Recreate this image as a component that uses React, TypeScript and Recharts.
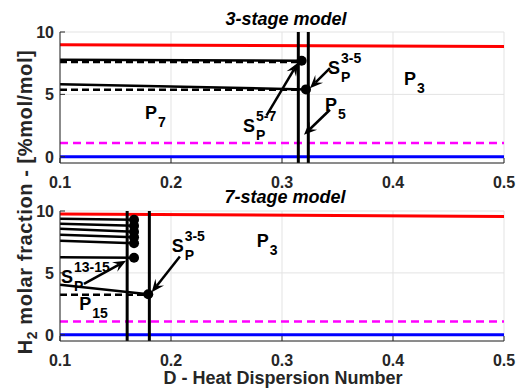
import React from 'react';
import {
  ComposedChart,
  Line,
  XAxis,
  YAxis,
  CartesianGrid,
  ReferenceLine,
  ReferenceDot,
  Scatter,
} from 'recharts';

const FONT = "'Liberation Sans', Arial, Helvetica, sans-serif";
const AXIS_COLOR = '#262626';

// ---- axes ----
const X_TICKS = [0.1, 0.2, 0.3, 0.4, 0.5];
const Y_TICKS = [0, 5, 10];
const X_DOMAIN: [number, number] = [0.1, 0.5];
const Y_DOMAIN: [number, number] = [-0.5, 10];

// ---- 3-stage model ----
const s3Red = [{ x: 0.1, y: 8.98 }, { x: 0.5, y: 8.84 }];
const s3Blue = [{ x: 0.1, y: 0 }, { x: 0.5, y: 0 }];
const s3Magenta = [{ x: 0.1, y: 1.1 }, { x: 0.5, y: 1.1 }];
const s3Solid = [
  [{ x: 0.1, y: 7.78 }, { x: 0.3177, y: 7.7 }],
  [{ x: 0.1, y: 5.82 }, { x: 0.3216, y: 5.4 }],
];
const s3Dashed = [
  [{ x: 0.1, y: 7.6 }, { x: 0.3177, y: 7.6 }],
  [{ x: 0.1, y: 5.37 }, { x: 0.3216, y: 5.37 }],
];
const s3Switch = [{ x: 0.3177, y: 7.7 }, { x: 0.3216, y: 5.4 }];
const s3Vertical = [0.3147, 0.3237];
const s3Arrows = [
  { from: { x: 0.286, y: 3.29 }, to: { x: 0.3144, y: 7.53 } },
  { from: { x: 0.3432, y: 7.1 }, to: { x: 0.3252, y: 5.5 } },
  { from: { x: 0.3432, y: 3.77 }, to: { x: 0.3198, y: 1.76 } },
];
const s3Labels = [
  { x: 0.1766, y: 3.04, main: 'P', sub: '7', sup: '' },
  { x: 0.41, y: 5.77, main: 'P', sub: '3', sup: '' },
  { x: 0.3414, y: 6.65, main: 'S', sub: 'P', sup: '3-5' },
  { x: 0.3387, y: 3.69, main: 'P', sub: '5', sup: '' },
  { x: 0.2649, y: 2.0, main: 'S', sub: 'P', sup: '5-7' },
];

// ---- 7-stage model ----
const s7Red = [{ x: 0.1, y: 9.76 }, { x: 0.5, y: 9.55 }];
const s7Blue = [{ x: 0.1, y: 0 }, { x: 0.5, y: 0 }];
const s7Magenta = [{ x: 0.1, y: 1.08 }, { x: 0.5, y: 1.08 }];
const s7ProfileStart = [9.37, 8.97, 8.56, 8.08, 7.59, 6.26];
const s7ProfileEnd = [9.29, 8.8, 8.32, 7.88, 7.39, 6.22];
const s7ProfileX = [0.1, 0.1667];
const s7Lower = [{ x: 0.1, y: 4.04 }, { x: 0.1795, y: 3.27 }];
const s7LowerDashed = [{ x: 0.1, y: 3.23 }, { x: 0.1795, y: 3.23 }];
const s7Vertical = [0.1605, 0.1805];
const s7Arrows = [
  { from: { x: 0.1216, y: 4.12 }, to: { x: 0.1595, y: 5.98 } },
  { from: { x: 0.208, y: 6.32 }, to: { x: 0.1826, y: 3.43 } },
];
const s7Labels = [
  { x: 0.1009, y: 4.2, main: 'S', sub: 'P', sup: '13-15' },
  { x: 0.2006, y: 6.7, main: 'S', sub: 'P', sup: '3-5' },
  { x: 0.2772, y: 7.13, main: 'P', sub: '3', sup: '' },
  { x: 0.1174, y: 2.02, main: 'P', sub: '15', sup: '' },
];

const s7Profiles = s7ProfileStart.map((v, i) => [
  { x: s7ProfileX[0], y: v },
  { x: s7ProfileX[1], y: s7ProfileEnd[i] },
]);
const s7Dots = [
  ...s7ProfileEnd.map((v) => ({ x: s7ProfileX[1], y: v })),
  s7Lower[1],
];

// ---- custom pieces ----
const XTick = (p: any) => (
  <g>
    <line x1={p.x} y1={p.y} x2={p.x} y2={p.y - 5} stroke={AXIS_COLOR} strokeWidth={1} />
    <text x={p.x} y={p.y + 25} textAnchor="middle" fontFamily={FONT} fontWeight="bold" fontSize={16} fill={AXIS_COLOR}>
      {p.payload.value}
    </text>
  </g>
);
const XTopTick = (p: any) => (
  <line x1={p.x} y1={p.y} x2={p.x} y2={p.y + 5} stroke={AXIS_COLOR} strokeWidth={1} />
);
const YTick = (p: any) => (
  <g>
    <line x1={p.x} y1={p.y} x2={p.x + 5} y2={p.y} stroke={AXIS_COLOR} strokeWidth={1} />
    <text x={p.x - 6} y={p.y + 6} textAnchor="end" fontFamily={FONT} fontWeight="bold" fontSize={16} fill={AXIS_COLOR}>
      {p.payload.value}
    </text>
  </g>
);
const YRightTick = (p: any) => (
  <line x1={p.x} y1={p.y} x2={p.x - 5} y2={p.y} stroke={AXIS_COLOR} strokeWidth={1} />
);

const ArrowShape = (p: any) => {
  const { x1, y1, x2, y2 } = p;
  const dx = x2 - x1;
  const dy = y2 - y1;
  const len = Math.hypot(dx, dy) || 1;
  const ux = dx / len;
  const uy = dy / len;
  const nx = -uy;
  const ny = ux;
  const L = 13;
  const W = 5.5;
  const N = 8;
  const bx = x2 - ux * L;
  const by = y2 - uy * L;
  const pts = [
    [x2, y2],
    [bx + nx * W, by + ny * W],
    [x2 - ux * N, y2 - uy * N],
    [bx - nx * W, by - ny * W],
  ]
    .map((q) => q.join(','))
    .join(' ');
  return (
    <g>
      <line x1={x1} y1={y1} x2={x2 - ux * N} y2={y2 - uy * N} stroke="#000" strokeWidth={2.5} />
      <polygon points={pts} fill="#000" />
    </g>
  );
};

const makeLabel = (l: { main: string; sub: string; sup: string }) => (p: any) => (
  <g fontFamily={FONT} fontWeight="bold" fill="#000">
    <text x={p.cx} y={p.cy} fontSize={18}>{l.main}</text>
    {l.sup ? <text x={p.cx + 13} y={p.cy - 11} fontSize={14}>{l.sup}</text> : null}
    {l.sub ? <text x={p.cx + 13} y={p.cy + 8} fontSize={14}>{l.sub}</text> : null}
  </g>
);

const DotShape = (p: any) => <circle cx={p.cx} cy={p.cy} r={5} fill="#000" />;

type PanelProps = {
  height: number;
  top: number;
  xAxisHeight: number;
  red: any[];
  blue: any[];
  magenta: any[];
  solid: any[][];
  dashed: any[][];
  dots: any[];
  verticals: number[];
  arrows: any[];
  labels: any[];
};

const Panel = (pp: PanelProps) => (
  <ComposedChart
    width={518}
    height={pp.height}
    margin={{ top: pp.top, right: 14, bottom: 0, left: 0 }}
  >
    <CartesianGrid stroke="#e3e3e3" strokeWidth={1} />
    <XAxis
      dataKey="x"
      type="number"
      domain={X_DOMAIN}
      ticks={X_TICKS}
      allowDataOverflow
      height={pp.xAxisHeight}
      tickSize={0}
      tickMargin={0}
      tickLine={false}
      tick={<XTick />}
      axisLine={{ stroke: AXIS_COLOR }}
      interval={0}
    />
    <XAxis
      xAxisId="t"
      orientation="top"
      dataKey="x"
      type="number"
      domain={X_DOMAIN}
      ticks={X_TICKS}
      allowDataOverflow
      height={0}
      tickSize={0}
      tickMargin={0}
      tickLine={false}
      tick={<XTopTick />}
      axisLine={{ stroke: AXIS_COLOR }}
      interval={0}
    />
    <YAxis
      type="number"
      domain={Y_DOMAIN}
      ticks={Y_TICKS}
      allowDataOverflow
      width={60}
      tickSize={0}
      tickMargin={0}
      tickLine={false}
      tick={<YTick />}
      axisLine={{ stroke: AXIS_COLOR }}
      interval={0}
    />
    <YAxis
      yAxisId="r"
      orientation="right"
      type="number"
      domain={Y_DOMAIN}
      ticks={Y_TICKS}
      allowDataOverflow
      width={0}
      tickSize={0}
      tickMargin={0}
      tickLine={false}
      tick={<YRightTick />}
      axisLine={{ stroke: AXIS_COLOR }}
      interval={0}
    />
    <Line data={pp.blue} dataKey="y" stroke="#0000ff" strokeWidth={3} dot={false} isAnimationActive={false} />
    <Line data={pp.magenta} dataKey="y" stroke="#ff00ff" strokeWidth={2.5} strokeDasharray="8 5" dot={false} isAnimationActive={false} />
    <Line data={pp.red} dataKey="y" stroke="#ff0000" strokeWidth={3} dot={false} isAnimationActive={false} />
    {pp.dashed.map((d, i) => (
      <Line key={'d' + i} data={d} dataKey="y" stroke="#000" strokeWidth={2.5} strokeDasharray="7 4" dot={false} isAnimationActive={false} />
    ))}
    {pp.solid.map((d, i) => (
      <Line key={'s' + i} data={d} dataKey="y" stroke="#000" strokeWidth={2.5} dot={false} isAnimationActive={false} />
    ))}
    {pp.verticals.map((v, i) => (
      <ReferenceLine key={'v' + i} x={v} stroke="#000" strokeWidth={3} />
    ))}
    <Scatter data={pp.dots} dataKey="y" shape={DotShape} isAnimationActive={false} />
    {pp.arrows.map((a, i) => (
      <ReferenceLine key={'a' + i} segment={[a.from, a.to]} shape={ArrowShape} ifOverflow="visible" />
    ))}
    {pp.labels.map((l, i) => (
      <ReferenceDot key={'l' + i} x={l.x} y={l.y} r={0} shape={makeLabel(l)} ifOverflow="visible" />
    ))}
  </ComposedChart>
);

export default function App() {
  return (
    <div style={{ position: 'absolute', left: 0, top: 0, width: 518, height: 389, background: '#fff' }}>
      <div style={{ position: 'absolute', left: 0, top: 0 }}>
        <Panel
          height={195}
          top={32}
          xAxisHeight={32}
          red={s3Red}
          blue={s3Blue}
          magenta={s3Magenta}
          solid={s3Solid}
          dashed={s3Dashed}
          dots={s3Switch}
          verticals={s3Vertical}
          arrows={s3Arrows}
          labels={s3Labels}
        />
      </div>
      <div style={{ position: 'absolute', left: 0, top: 195 }}>
        <Panel
          height={194}
          top={16}
          xAxisHeight={48}
          red={s7Red}
          blue={s7Blue}
          magenta={s7Magenta}
          solid={[...s7Profiles, s7Lower]}
          dashed={[s7LowerDashed]}
          dots={s7Dots}
          verticals={s7Vertical}
          arrows={s7Arrows}
          labels={s7Labels}
        />
      </div>
      <svg
        width={518}
        height={389}
        style={{ position: 'absolute', left: 0, top: 0, pointerEvents: 'none' }}
      >
        <text x={286} y={25} textAnchor="middle" fontFamily={FONT} fontWeight="bold" fontStyle="italic" fontSize={18} fill="#000">
          3-stage model
        </text>
        <text x={285} y={203} textAnchor="middle" fontFamily={FONT} fontWeight="bold" fontStyle="italic" fontSize={18} fill="#000">
          7-stage model
        </text>
        <text x={283} y={384} textAnchor="middle" fontFamily={FONT} fontWeight="bold" fontSize={18} fill={AXIS_COLOR}>
          D - Heat Dispersion Number
        </text>
        <text
          transform="translate(32,202) rotate(-90)"
          textAnchor="middle"
          fontFamily={FONT}
          fontWeight="bold"
          fontSize={20}
          letterSpacing={0.6}
          fill={AXIS_COLOR}
        >
          H<tspan fontSize={14} dy={5}>2</tspan>
          <tspan dy={-5}> molar fraction - [%mol/mol]</tspan>
        </text>
      </svg>
    </div>
  );
}
